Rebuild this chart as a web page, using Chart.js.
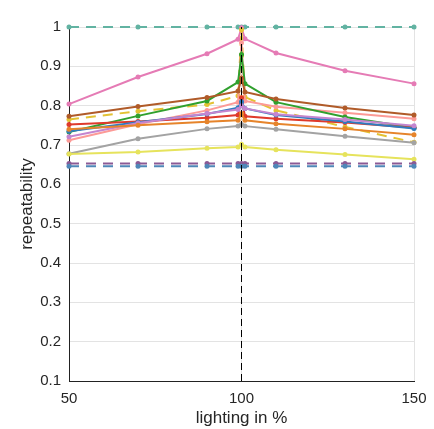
<!DOCTYPE html>
<html><head><meta charset="utf-8">
<script src="https://cdn.jsdelivr.net/npm/chart.js@4/dist/chart.umd.min.js"></script>
<style>html,body{margin:0;padding:0;background:#fff}#wrap{width:434px;height:429px}</style>
</head><body><div id="wrap"><canvas id="c" width="434" height="429"></canvas></div>
<script>
const xValues = [50, 70, 90, 99, 100, 101, 110, 130, 150];
const yTicks = [0.1, 0.2, 0.3, 0.4, 0.5, 0.6, 0.7, 0.8, 0.9, 1];
const xTicks = [50, 100, 150];

const tealDashed   = [1, 1, 1, 1, 1, 1, 1, 1, 1];
const purpleDashed = [0.653, 0.653, 0.653, 0.653, 0.653, 0.653, 0.653, 0.653, 0.653];
const blueDashed   = [0.646, 0.646, 0.646, 0.646, 0.646, 0.646, 0.646, 0.646, 0.646];
const lemon    = [0.677, 0.682, 0.692, 0.695, 0.702, 0.695, 0.688, 0.676, 0.664];
const grey     = [0.678, 0.716, 0.741, 0.748, 0.752, 0.748, 0.740, 0.722, 0.706];
const orange   = [0.740, 0.750, 0.759, 0.763, 0.780, 0.763, 0.754, 0.741, 0.726];
const lavender = [0.721, 0.756, 0.780, 0.790, 0.800, 0.793, 0.778, 0.765, 0.749];
const blue     = [0.735, 0.758, 0.779, 0.795, 0.810, 0.793, 0.776, 0.760, 0.742];
const red      = [0.752, 0.760, 0.769, 0.776, 0.820, 0.773, 0.767, 0.757, 0.744];
const salmon   = [0.712, 0.753, 0.788, 0.809, 0.960, 0.812, 0.797, 0.782, 0.767];
const brown    = [0.773, 0.798, 0.821, 0.837, 0.870, 0.835, 0.817, 0.794, 0.776];
const green    = [0.733, 0.774, 0.812, 0.860, 0.930, 0.856, 0.809, 0.771, 0.744];
const goldDashed = [0.765, 0.786, 0.803, 0.825, 0.993, 0.822, 0.788, 0.746, 0.707];
const pink     = [0.804, 0.873, 0.932, 0.969, 0.998, 0.970, 0.934, 0.889, 0.856];
const refLineX = [100, 100];
const refLineY = [0.1, 1];

function pts(ys) { return ys.map((y, i) => ({ x: xValues[i], y: y })); }
function ds(ys, color, dashed) {
  return {
    data: pts(ys), borderColor: color, backgroundColor: color,
    borderWidth: 2, pointRadius: 2.5, pointHoverRadius: 2.5, pointBorderWidth: 0,
    borderDash: dashed ? [10, 7] : [], tension: 0, clip: false, fill: false
  };
}

const datasets = [
  { data: refLineX.map((x, i) => ({ x: x, y: refLineY[i] })), borderColor: '#000', borderWidth: 1,
    borderDash: [7, 4], pointRadius: 0, clip: false, fill: false },
  ds(blueDashed, '#4f87b8', true),
  ds(purpleDashed, '#8b5a95', true),
  ds(lemon, '#e6e35c', false),
  ds(grey, '#a3a3a3', false),
  ds(orange, '#e6842b', false),
  ds(lavender, '#c485cf', false),
  ds(blue, '#2f7cbf', false),
  ds(red, '#df3a2c', false),
  ds(brown, '#b05b29', false),
  ds(green, '#30a02e', false),
  ds(salmon, '#fc9a97', false),
  ds(goldDashed, '#e3c233', true),
  ds(pink, '#e57bb5', false),
  ds(tealDashed, '#62b3a2', true)
];

const fam = '"Liberation Sans", Arial, sans-serif';

new Chart(document.getElementById('c'), {
  type: 'line',
  data: { datasets: datasets },
  options: {
    responsive: false, animation: false, devicePixelRatio: 1,
    layout: { padding: { left: 0, right: 20, top: 27, bottom: 0 } },
    plugins: { legend: { display: false }, tooltip: { enabled: false } },
    scales: {
      x: {
        type: 'linear', min: 50, max: 150,
        afterBuildTicks: s => { s.ticks = xTicks.map(v => ({ value: v })); },
        afterFit: s => { s.height = 48; s.paddingLeft = 0; s.paddingRight = 0; },
        grid: { color: '#e3e3e3', drawTicks: false, lineWidth: 1 },
        border: { color: '#222', width: 1 },
        ticks: { font: { family: fam, size: 15 }, color: '#262626', padding: 9, maxRotation: 0 },
        title: { display: true, text: 'lighting in %', font: { family: fam, size: 17 }, color: '#262626', padding: { top: 0, bottom: 0 } }
      },
      y: {
        type: 'linear', min: 0.1, max: 1,
        afterBuildTicks: s => { s.ticks = yTicks.map(v => ({ value: v })); },
        afterFit: s => { s.width = 69; s.paddingTop = 0; s.paddingBottom = 0; },
        grid: { color: '#e3e3e3', drawTicks: false, lineWidth: 1 },
        border: { color: '#222', width: 1 },
        ticks: { font: { family: fam, size: 15 }, color: '#262626', padding: 8, callback: v => String(Math.round(v * 10) / 10) },
        title: { display: true, text: 'repeatability', font: { family: fam, size: 17 }, color: '#262626', padding: { top: 17, bottom: 0 } }
      }
    }
  }
});
</script>
</body></html>
